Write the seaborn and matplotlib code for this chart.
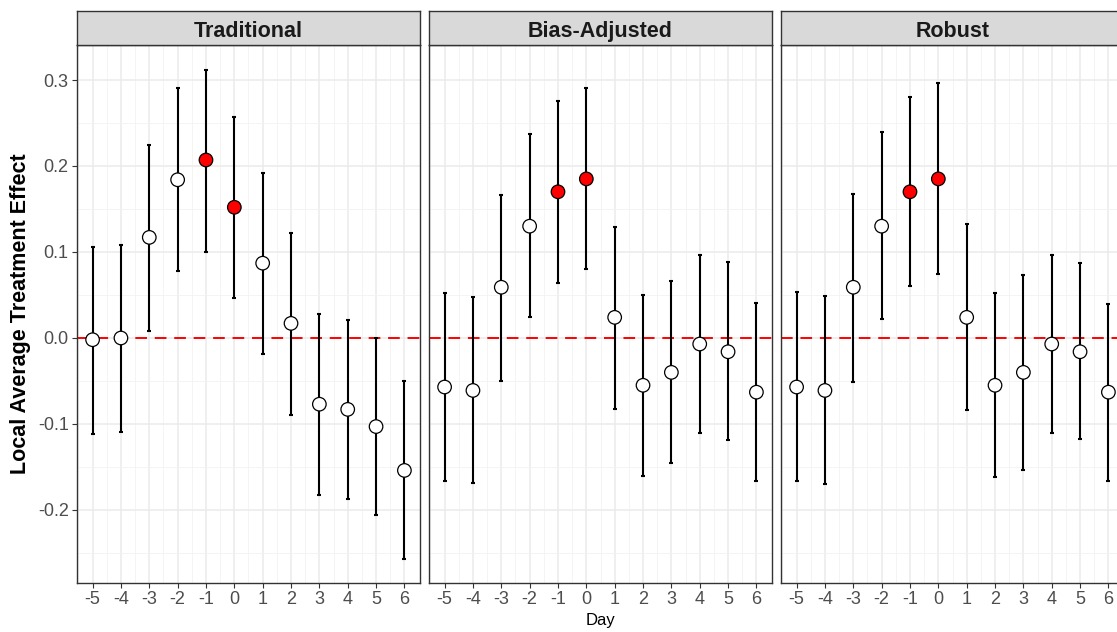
import numpy as np
import pandas as pd
import matplotlib
matplotlib.use("Agg")
import matplotlib.pyplot as plt
import seaborn as sns

# Event-time window (days relative to treatment)
days = [-5, -4, -3, -2, -1, 0, 1, 2, 3, 4, 5, 6]
panels = ["Traditional", "Bias-Adjusted", "Robust"]
highlight_days = [-1, 0]

# Point estimates and 95% confidence bounds per estimator
trad_est = [-0.002, 0.000, 0.117, 0.184, 0.207, 0.152, 0.087, 0.017, -0.077, -0.083, -0.103, -0.154]
trad_lo = [-0.112, -0.109, 0.008, 0.078, 0.100, 0.046, -0.019, -0.089, -0.182, -0.187, -0.206, -0.257]
trad_hi = [0.106, 0.108, 0.224, 0.291, 0.312, 0.257, 0.192, 0.122, 0.028, 0.021, 0.000, -0.050]

bias_est = [-0.057, -0.061, 0.059, 0.130, 0.170, 0.185, 0.024, -0.055, -0.040, -0.007, -0.016, -0.063]
bias_lo = [-0.166, -0.169, -0.050, 0.024, 0.064, 0.080, -0.082, -0.160, -0.145, -0.111, -0.119, -0.166]
bias_hi = [0.052, 0.048, 0.166, 0.237, 0.276, 0.291, 0.129, 0.050, 0.066, 0.097, 0.088, 0.041]

rob_est = [-0.057, -0.061, 0.059, 0.130, 0.170, 0.185, 0.024, -0.055, -0.040, -0.007, -0.016, -0.063]
rob_lo = [-0.166, -0.170, -0.051, 0.022, 0.060, 0.074, -0.084, -0.162, -0.153, -0.111, -0.118, -0.166]
rob_hi = [0.053, 0.049, 0.167, 0.239, 0.280, 0.297, 0.132, 0.052, 0.073, 0.096, 0.087, 0.040]

y_ticks = [-0.2, -0.1, 0.0, 0.1, 0.2, 0.3]

estimates = {
    "Traditional": (trad_est, trad_lo, trad_hi),
    "Bias-Adjusted": (bias_est, bias_lo, bias_hi),
    "Robust": (rob_est, rob_lo, rob_hi),
}

frames = []
for name in panels:
    est, lo, hi = estimates[name]
    frames.append(pd.DataFrame({"method": name, "day": days, "est": est, "lo": lo, "hi": hi}))
df = pd.concat(frames, ignore_index=True)
df["sig"] = np.where(df["day"].isin(highlight_days), "yes", "no")

sns.set_theme(style="white")
plt.rcParams["font.family"] = ["Liberation Sans", "DejaVu Sans"]
plt.rcParams["axes.unicode_minus"] = False

W, H = 1117, 632
fig = plt.figure(figsize=(W / 100, H / 100), dpi=100)
fig.patch.set_facecolor("white")

lefts = [77, 429, 781]
panel_w = 343
top, bottom = 45, 583
strip_top = 11

xlim = (-5.55, 6.55)
ylim = (-0.2849, 0.3407)
border = "#333333"

for i, name in enumerate(panels):
    ax = fig.add_axes([lefts[i] / W, (H - bottom) / H, panel_w / W, (bottom - top) / H])
    sub = df[df["method"] == name]

    ax.set_xlim(*xlim)
    ax.set_ylim(*ylim)
    ax.set_xticks(days)
    ax.set_xticks([d + 0.5 for d in days[:-1]] + [days[0] - 0.5], minor=True)
    ax.set_yticks(y_ticks)
    ax.set_yticks([-0.25, -0.15, -0.05, 0.05, 0.15, 0.25], minor=True)
    ax.grid(which="major", color="#EBEBEB", linewidth=1.1)
    ax.grid(which="minor", color="#F2F2F2", linewidth=0.6)
    ax.set_axisbelow(True)

    ax.axhline(0, color="#FF0000", linestyle=(0, (6, 4)), linewidth=1.4, zorder=1.5)

    ax.errorbar(sub["day"], sub["est"],
                yerr=[sub["est"] - sub["lo"], sub["hi"] - sub["est"]],
                fmt="none", ecolor="black", elinewidth=1.5, capsize=1.2, capthick=1.5, zorder=2)

    sns.scatterplot(data=sub, x="day", y="est", hue="sig",
                    palette={"no": "white", "yes": "#FF0000"},
                    s=95, edgecolor="black", linewidth=0.9, legend=False, zorder=3, ax=ax)

    ax.set_xticklabels([str(d) for d in days])
    ax.tick_params(axis="x", which="major", length=3.5, width=0.8, color=border,
                   labelsize=13, labelcolor="#4D4D4D", pad=2.5, bottom=True)
    if i == 0:
        ax.set_yticklabels([f"{v:.1f}" for v in y_ticks])
        ax.set_ylabel("Local Average Treatment Effect", fontsize=15.5, fontweight="bold",
                      color="black", labelpad=5)
        ax.tick_params(axis="y", which="major", length=3.5, width=0.8, color=border,
                       labelsize=13, labelcolor="#4D4D4D", pad=2.5, left=True)
    else:
        ax.set_yticklabels([])
        ax.set_ylabel("")
        ax.tick_params(axis="y", which="major", length=0, left=False)
    ax.set_xlabel("Day" if i == 1 else "", fontsize=12, color="black", labelpad=3)
    ax.tick_params(axis="both", which="minor", length=0)
    for sp in ax.spines.values():
        sp.set_color(border)
        sp.set_linewidth(1.0)

    # Facet strip above the panel
    sax = fig.add_axes([lefts[i] / W, (H - top) / H, panel_w / W, (top - strip_top) / H])
    sax.set_facecolor("#D9D9D9")
    sax.set_xticks([])
    sax.set_yticks([])
    for sp in sax.spines.values():
        sp.set_color(border)
        sp.set_linewidth(1.0)
    sax.text(0.5, 0.47, name, ha="center", va="center_baseline", fontsize=15.5,
             fontweight="bold", color="#1A1A1A", transform=sax.transAxes)

fig.savefig("out.png", dpi=100, facecolor="white")
